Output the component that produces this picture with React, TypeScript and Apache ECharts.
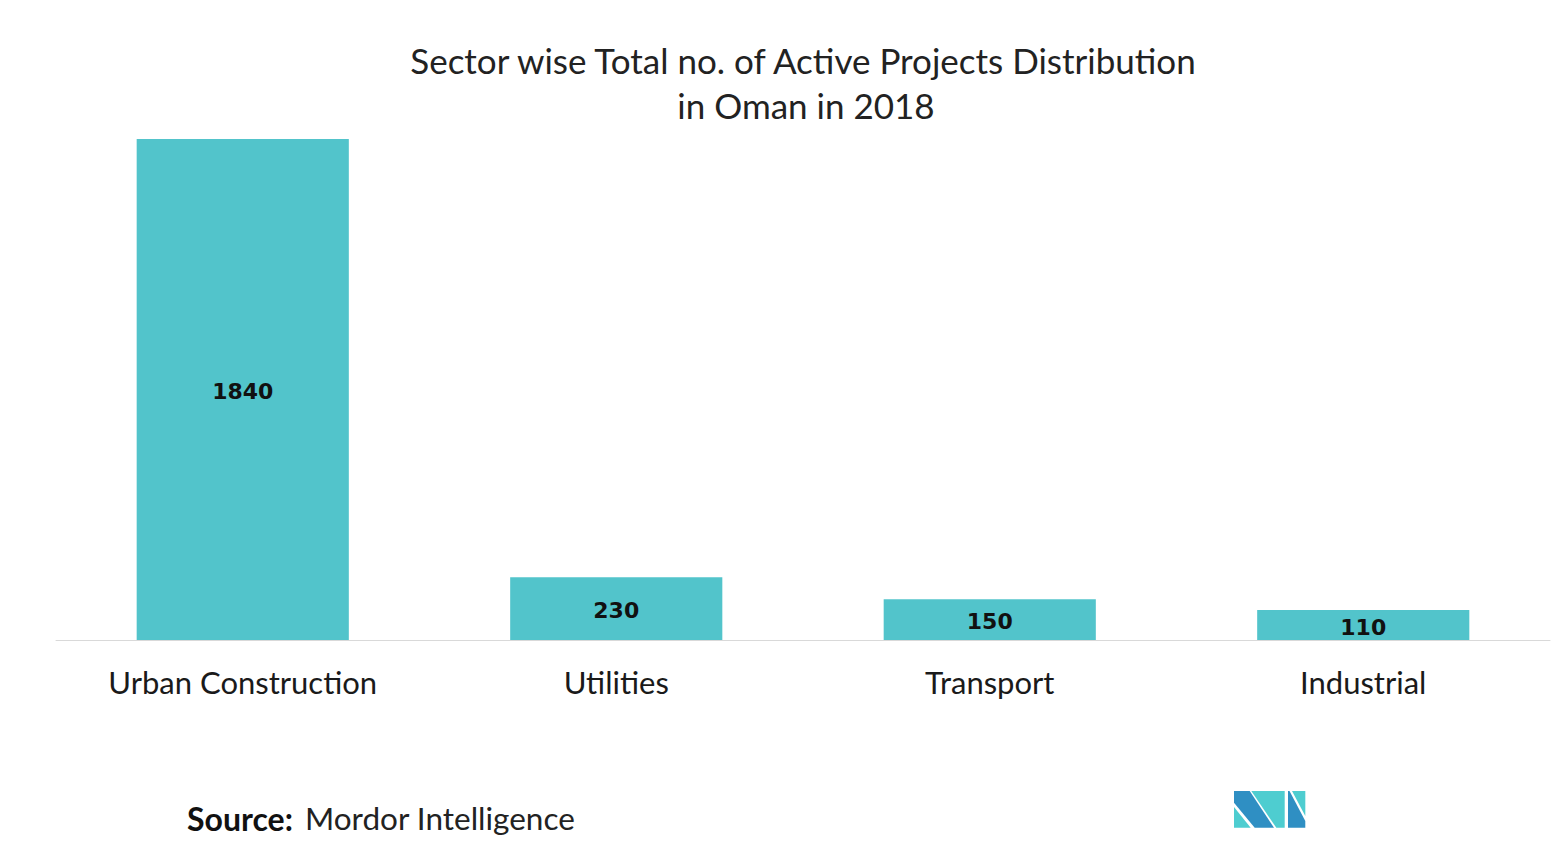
import React, { useEffect, useRef } from "react";
import * as echarts from "echarts";

const categories = ["Urban Construction", "Utilities", "Transport", "Industrial"];
const projectCounts = [1840, 230, 150, 110];
const titleLines = ["Sector wise Total no. of Active Projects Distribution", "in Oman in 2018"];

const BAR_COLOR = "#52C4CB";
const LOGO_DARK = "#2F8FC3";
const LOGO_LIGHT = "#4ECDD0";

export default function App() {
  const ref = useRef<HTMLDivElement>(null);
  useEffect(() => {
    if (!ref.current) return;
    const chart = echarts.init(ref.current, null, { renderer: "svg" });
    const ox = 1234;
    const oy = 791;
    const pts = (arr: number[][]) => arr.map(([x, y]) => [ox + x, oy + y]);
    chart.setOption({
      animation: false,
      backgroundColor: "#ffffff",
      grid: { left: 56, right: 2, top: 95.4, bottom: 218, containLabel: false },
      xAxis: {
        type: "category",
        data: categories,
        axisLine: { show: true, lineStyle: { color: "#d9d9d9", width: 1 } },
        axisTick: { show: false },
        axisLabel: {
          color: "#1a1a1a",
          fontFamily: "Lato",
          fontSize: 31,
          margin: 26,
          interval: 0,
        },
      },
      yAxis: {
        type: "value",
        min: 0,
        max: 2000,
        show: false,
        splitLine: { show: false },
      },
      series: [
        {
          type: "bar",
          data: projectCounts,
          barWidth: "56.8%",
          itemStyle: { color: BAR_COLOR },
          label: {
            show: true,
            position: "inside",
            offset: [0, 2],
            color: "#111111",
            fontFamily: "DejaVu Sans",
            fontWeight: "bold",
            fontSize: 22,
          },
        },
      ],
      graphic: [
        {
          type: "text",
          x: 803,
          y: 60,
          style: {
            text: titleLines[0],
            fontFamily: "Lato",
            fontSize: 35,
            fill: "#222222",
            align: "center",
            verticalAlign: "middle",
          },
        },
        {
          type: "text",
          x: 806,
          y: 105,
          style: {
            text: titleLines[1],
            fontFamily: "Lato",
            fontSize: 35,
            fill: "#222222",
            align: "center",
            verticalAlign: "middle",
          },
        },
        {
          type: "text",
          x: 187,
          y: 818,
          style: {
            text: "Source:",
            fontFamily: "Lato",
            fontWeight: "bold",
            fontSize: 32,
            fill: "#111111",
            verticalAlign: "middle",
          },
        },
        {
          type: "text",
          x: 305,
          y: 818,
          style: {
            text: "Mordor Intelligence",
            fontFamily: "Lato",
            fontSize: 31.5,
            fill: "#222222",
            verticalAlign: "middle",
          },
        },
        {
          type: "polygon",
          shape: { points: pts([[0, 0], [15.7, 0], [40, 36.7], [20.7, 36.7], [0, 11.7]]) },
          style: { fill: LOGO_DARK },
        },
        {
          type: "polygon",
          shape: { points: pts([[0, 16], [0, 36.7], [16.7, 36.7]]) },
          style: { fill: LOGO_LIGHT },
        },
        {
          type: "polygon",
          shape: { points: pts([[17.3, 0], [50.7, 0], [50.7, 36.7], [42.3, 36.7]]) },
          style: { fill: LOGO_LIGHT },
        },
        {
          type: "polygon",
          shape: { points: pts([[54, 0], [55.5, 0], [71.3, 30], [71.3, 36.7], [54, 36.7]]) },
          style: { fill: LOGO_DARK },
        },
        {
          type: "polygon",
          shape: { points: pts([[58, 0], [71.3, 0], [71.3, 25]]) },
          style: { fill: LOGO_LIGHT },
        },
      ],
    });
    return () => chart.dispose();
  }, []);
  return (
    <div
      ref={ref}
      style={{ position: "fixed", left: 0, top: 0, width: 1552, height: 858 }}
    />
  );
}
